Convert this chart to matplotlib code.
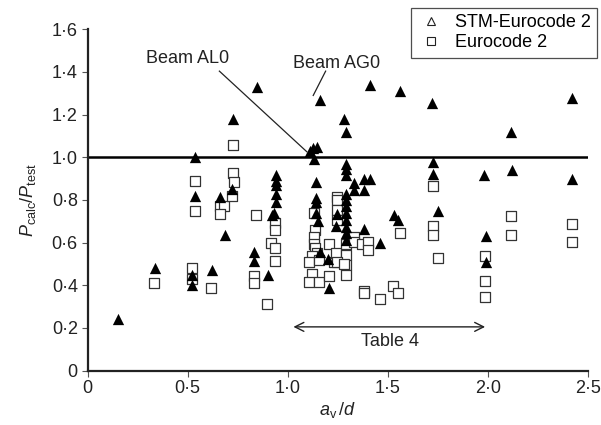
import matplotlib
matplotlib.use("Agg")
import matplotlib.pyplot as plt
from matplotlib.lines import Line2D

plt.rcParams['font.family'] = ['Liberation Sans', 'DejaVu Sans']
plt.rcParams['mathtext.fontset'] = 'custom'
plt.rcParams['mathtext.rm'] = 'Liberation Sans'
plt.rcParams['mathtext.it'] = 'Liberation Sans:italic'
plt.rcParams['mathtext.bf'] = 'Liberation Sans:bold'

# STM-Eurocode 2 (filled triangles)
stm_x = [0.15, 0.335, 0.52, 0.52, 0.535, 0.535, 0.62, 0.66, 0.685, 0.72, 0.725,
         0.83, 0.83, 0.845, 0.90,
         0.94, 0.94, 0.94, 0.94, 0.94, 0.93, 0.92,
         1.11, 1.125, 1.145, 1.13, 1.16,
         1.14, 1.14, 1.14, 1.14, 1.15, 1.16, 1.20, 1.205,
         1.245, 1.24,
         1.28, 1.29, 1.29, 1.29, 1.29, 1.29, 1.29, 1.29, 1.29, 1.29, 1.29, 1.29, 1.29,
         1.33, 1.33, 1.38, 1.38, 1.41, 1.38, 1.46,
         1.41, 1.56, 1.53, 1.55,
         1.72, 1.725, 1.725, 1.75,
         1.98, 1.99, 1.99,
         2.115, 2.12,
         2.42, 2.42]
stm_y = [0.24, 0.48, 0.45, 0.40, 1.00, 0.82, 0.47, 0.815, 0.635, 0.85, 1.18,
         0.555, 0.515, 1.33, 0.45,
         0.917, 0.89, 0.87, 0.83, 0.79, 0.74, 0.73,
         1.03, 1.045, 1.05, 0.99, 1.27,
         0.885, 0.81, 0.79, 0.74, 0.70, 0.555, 0.525, 0.385,
         0.735, 0.68,
         1.18, 1.12, 0.97, 0.945, 0.915, 0.83, 0.80, 0.77, 0.74, 0.705, 0.675, 0.645, 0.61,
         0.88, 0.845, 0.90, 0.845, 0.90, 0.665, 0.60,
         1.34, 1.31, 0.73, 0.705,
         1.255, 0.98, 0.92, 0.75,
         0.915, 0.63, 0.51,
         1.12, 0.94,
         1.28, 0.90]

# Eurocode 2 (open squares)
ec_x = [0.33, 0.52, 0.52, 0.535, 0.535, 0.615, 0.66, 0.68, 0.66,
        0.725, 0.725, 0.73, 0.72, 0.83, 0.83, 0.84, 0.895,
        0.935, 0.935, 0.915, 0.935, 0.935,
        1.13, 1.135, 1.13, 1.13, 1.135, 1.145, 1.12, 1.105, 1.155, 1.12, 1.105, 1.155,
        1.205, 1.205, 1.23, 1.24,
        1.245, 1.245, 1.245, 1.245,
        1.29, 1.29, 1.29, 1.29, 1.245, 1.28,
        1.33, 1.33, 1.37, 1.40, 1.40, 1.38, 1.38, 1.46, 1.525, 1.55, 1.56,
        1.725, 1.725, 1.725, 1.75,
        1.985, 1.985, 1.985,
        2.115, 2.115, 2.42, 2.42]
ec_y = [0.41, 0.48, 0.43, 0.89, 0.75, 0.385, 0.77, 0.77, 0.735,
        1.06, 0.925, 0.885, 0.82, 0.445, 0.41, 0.73, 0.31,
        0.69, 0.66, 0.60, 0.575, 0.515,
        0.74, 0.66, 0.625, 0.595, 0.575, 0.55, 0.535, 0.51, 0.52, 0.455, 0.415, 0.415,
        0.595, 0.445, 0.51, 0.55,
        0.815, 0.80, 0.755, 0.705,
        0.595, 0.54, 0.495, 0.45, 0.51, 0.50,
        0.625, 0.605, 0.595, 0.605, 0.565, 0.375, 0.365, 0.335, 0.395, 0.365, 0.645,
        0.865, 0.68, 0.635, 0.53,
        0.535, 0.42, 0.345,
        0.725, 0.635, 0.685, 0.605]

x_ticks = [0, 0.5, 1.0, 1.5, 2.0, 2.5]
x_labels = ['0', '0·5', '1·0', '1·5', '2·0', '2·5']
y_ticks = [0, 0.2, 0.4, 0.6, 0.8, 1.0, 1.2, 1.4, 1.6]
y_labels = ['0', '0·2', '0·4', '0·6', '0·8', '1·0', '1·2', '1·4', '1·6']

FS = 13
TXT = '#222222'

fig = plt.figure(figsize=(6.01, 4.25), dpi=100)
ax = fig.add_axes([0.1456, 0.128, 0.8324, 0.803])

ax.scatter(ec_x, ec_y, marker='s', s=46, facecolors='white', edgecolors='#333333',
           linewidths=0.9, zorder=3)
ax.scatter(stm_x, stm_y, marker='^', s=66, color='black', linewidths=0, zorder=4)

ax.axhline(1.0, color='black', lw=1.8, zorder=2)

ax.set_xlim(0, 2.5)
ax.set_ylim(0, 1.6)
ax.set_xticks(x_ticks)
ax.set_xticklabels(x_labels)
ax.set_yticks(y_ticks)
ax.set_yticklabels(y_labels)
ax.tick_params(direction='out', length=4, width=0.8, color='#555555',
               labelsize=FS, labelcolor=TXT, pad=3)
for s in ['top', 'right']:
    ax.spines[s].set_visible(False)
for s in ['left', 'bottom']:
    ax.spines[s].set_linewidth(1.6)
    ax.spines[s].set_color(TXT)

ax.set_xlabel(r'$a_{\mathrm{v}}\,/d$', fontsize=FS, color=TXT, labelpad=2)
ax.set_ylabel(r'$P_{\mathrm{calc}}/P_{\mathrm{test}}$', fontsize=FS, color=TXT, labelpad=10)

# annotations
ax.text(0.50, 1.465, 'Beam AL0', fontsize=FS, ha='center', va='center', color=TXT)
ax.plot([0.659, 1.096], [1.404, 1.026], color=TXT, lw=0.9, zorder=5)
ax.text(1.245, 1.44, 'Beam AG0', fontsize=FS, ha='center', va='center', color=TXT)
ax.plot([1.19, 1.128], [1.404, 1.29], color=TXT, lw=0.9, zorder=5)

ax.annotate('', xy=(1.029, 0.205), xytext=(1.987, 0.205),
            arrowprops=dict(arrowstyle='<->', lw=1.0, color=TXT,
                            mutation_scale=16, shrinkA=0, shrinkB=0))
ax.text(1.51, 0.138, 'Table 4', fontsize=FS, ha='center', va='center', color=TXT)

handles = [Line2D([], [], marker='^', linestyle='none', markerfacecolor='white',
                  markeredgecolor=TXT, markersize=6, markeredgewidth=0.8),
           Line2D([], [], marker='s', linestyle='none', markerfacecolor='white',
                  markeredgecolor=TXT, markersize=6, markeredgewidth=0.8)]
leg = ax.legend(handles, ['STM-Eurocode 2', 'Eurocode 2'], loc='upper right',
                bbox_to_anchor=(1.0186, 1.062), borderaxespad=0, fontsize=FS,
                frameon=True, fancybox=False, edgecolor=TXT, handletextpad=0.5,
                handlelength=1.6, borderpad=0.35, labelspacing=0.15)
leg.get_frame().set_linewidth(0.9)
leg.set_zorder(10)

fig.savefig('out.png', dpi=100)
